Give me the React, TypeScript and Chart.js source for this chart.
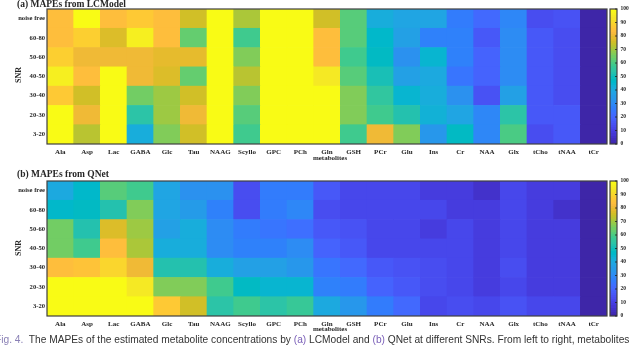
import React, { useEffect, useRef } from 'react';
import { Chart, registerables } from 'chart.js';
Chart.register(...registerables);

const METABOLITES = ['Ala', 'Asp', 'Lac', 'GABA', 'Glc', 'Tau', 'NAAG', 'Scyllo', 'GPC', 'PCh', 'Gln', 'GSH', 'PCr', 'Glu', 'Ins', 'Cr', 'NAA', 'Glx', 'tCho', 'tNAA', 'tCr'];
// SNR rows, top to bottom
const SNR_LABELS = ['noise free', '60-80', '50-60', '40-50', '30-40', '20-30', '3-20'];
const COLORBAR_TICKS = [0, 10, 20, 30, 40, 50, 60, 70, 80, 90, 100];

// (a) LCModel MAPEs (%), one array per SNR row, values clipped at 100 by the colour scale
const LC_NOISE_FREE = [83, 100, 83, 87, 83, 75, 100, 71, 100, 100, 75, 61, 41, 38, 38, 25, 21, 29, 13, 15, 1];
const LC_60_80 = [83, 88, 77, 96, 83, 64, 100, 59, 100, 100, 83, 61, 46, 36, 27, 27, 17, 30, 16, 13, 1];
const LC_50_60 = [88, 80, 80, 80, 79, 79, 100, 67, 100, 100, 83, 58, 47, 32, 44, 27, 19, 30, 16, 13, 1];
const LC_40_50 = [96, 83, 100, 80, 77, 64, 100, 72, 100, 100, 95, 61, 50, 36, 40, 24, 20, 30, 16, 13, 1];
const LC_30_40 = [87, 75, 100, 65, 70, 75, 100, 67, 100, 100, 100, 67, 56, 44, 41, 32, 15, 36, 17, 13, 1];
const LC_20_30 = [100, 80, 100, 54, 70, 80, 100, 62, 100, 100, 100, 67, 59, 52, 43, 38, 29, 54, 17, 16, 1];
const LC_3_20 = [100, 73, 100, 41, 67, 76, 100, 58, 100, 100, 100, 59, 81, 67, 33, 48, 29, 60, 14, 16, 1];

// (b) QNet MAPEs (%)
const QN_NOISE_FREE = [40, 46, 62, 59, 38, 32, 32, 13, 25, 25, 16, 12, 11, 11, 8, 8, 6, 11, 8, 8, 1];
const QN_60_80 = [46, 48, 52, 66, 38, 35, 27, 14, 25, 29, 14, 11, 11, 11, 11, 9, 9, 12, 8, 6, 1];
const QN_50_60 = [65, 52, 77, 70, 37, 42, 31, 25, 24, 23, 17, 15, 12, 11, 8, 11, 9, 11, 8, 8, 1];
const QN_40_50 = [65, 59, 84, 71, 42, 42, 31, 27, 27, 31, 20, 17, 12, 12, 11, 11, 9, 12, 8, 8, 1];
const QN_30_40 = [83, 85, 90, 80, 52, 52, 41, 36, 36, 33, 24, 21, 17, 15, 14, 12, 8, 14, 9, 8, 1];
const QN_20_30 = [100, 100, 100, 95, 67, 66, 59, 48, 44, 45, 28, 25, 19, 17, 14, 11, 9, 12, 9, 8, 1];
const QN_3_20 = [100, 100, 100, 100, 86, 76, 54, 59, 54, 57, 40, 34, 25, 21, 12, 14, 12, 15, 11, 11, 1];

const LC_ROWS = [LC_NOISE_FREE, LC_60_80, LC_50_60, LC_40_50, LC_30_40, LC_20_30, LC_3_20];
const QN_ROWS = [QN_NOISE_FREE, QN_60_80, QN_50_60, QN_40_50, QN_30_40, QN_20_30, QN_3_20];

// MATLAB parula colormap (64 entries)
const PARULA: number[][] = [
  [0.2422, 0.1504, 0.6603], [0.2504, 0.1650, 0.7076], [0.2578, 0.1818, 0.7511], [0.2647, 0.1978, 0.7952],
  [0.2706, 0.2147, 0.8364], [0.2751, 0.2342, 0.8710], [0.2783, 0.2559, 0.8991], [0.2803, 0.2782, 0.9221],
  [0.2813, 0.3006, 0.9414], [0.2810, 0.3228, 0.9579], [0.2795, 0.3447, 0.9717], [0.2760, 0.3667, 0.9829],
  [0.2699, 0.3892, 0.9906], [0.2602, 0.4123, 0.9952], [0.2440, 0.4358, 0.9988], [0.2206, 0.4603, 0.9973],
  [0.1963, 0.4847, 0.9892], [0.1834, 0.5074, 0.9798], [0.1786, 0.5289, 0.9682], [0.1764, 0.5499, 0.9520],
  [0.1687, 0.5703, 0.9359], [0.1540, 0.5902, 0.9218], [0.1460, 0.6091, 0.9079], [0.1380, 0.6276, 0.8973],
  [0.1248, 0.6459, 0.8883], [0.1113, 0.6635, 0.8763], [0.0952, 0.6798, 0.8598], [0.0689, 0.6948, 0.8394],
  [0.0297, 0.7082, 0.8163], [0.0036, 0.7203, 0.7917], [0.0067, 0.7312, 0.7660], [0.0433, 0.7411, 0.7394],
  [0.0964, 0.7500, 0.7120], [0.1408, 0.7584, 0.6842], [0.1717, 0.7670, 0.6554], [0.1938, 0.7758, 0.6251],
  [0.2161, 0.7843, 0.5923], [0.2470, 0.7918, 0.5567], [0.2906, 0.7973, 0.5188], [0.3406, 0.8008, 0.4789],
  [0.3909, 0.8029, 0.4354], [0.4456, 0.8024, 0.3909], [0.5044, 0.7993, 0.3480], [0.5616, 0.7942, 0.3045],
  [0.6174, 0.7876, 0.2612], [0.6720, 0.7793, 0.2227], [0.7242, 0.7698, 0.1910], [0.7738, 0.7598, 0.1646],
  [0.8203, 0.7498, 0.1535], [0.8634, 0.7406, 0.1596], [0.9035, 0.7330, 0.1774], [0.9393, 0.7288, 0.2100],
  [0.9728, 0.7298, 0.2394], [0.9956, 0.7434, 0.2371], [0.9970, 0.7659, 0.2199], [0.9952, 0.7893, 0.2028],
  [0.9892, 0.8136, 0.1885], [0.9786, 0.8386, 0.1766], [0.9676, 0.8639, 0.1643], [0.9610, 0.8890, 0.1537],
  [0.9597, 0.9135, 0.1423], [0.9628, 0.9373, 0.1265], [0.9691, 0.9606, 0.1064], [0.9769, 0.9839, 0.0805],
];

function rgb(c: number[]): string {
  return `rgb(${Math.round(c[0] * 255)},${Math.round(c[1] * 255)},${Math.round(c[2] * 255)})`;
}
function parula(v: number): string {
  const i = Math.max(0, Math.min(63, Math.floor((v / 100) * 64)));
  return rgb(PARULA[i]);
}

const SERIF = "'Liberation Serif', 'DejaVu Serif', serif";
const TEXT_COLOR = '#262626';

const framePlugin = {
  id: 'frame',
  afterDatasetsDraw(chart: any) {
    const { ctx, chartArea: a } = chart;
    ctx.save();
    ctx.strokeStyle = '#404040';
    ctx.lineWidth = 1.2;
    ctx.strokeRect(a.left, a.top, a.right - a.left, a.bottom - a.top);
    const marks = chart.options.plugins?.frame?.marks;
    if (marks) {
      const y = chart.scales.y;
      ctx.lineWidth = 0.8;
      ctx.strokeStyle = '#202020';
      for (const v of COLORBAR_TICKS) {
        const py = y.getPixelForValue(v);
        ctx.beginPath();
        ctx.moveTo(a.right - 2, py);
        ctx.lineTo(a.right, py);
        ctx.stroke();
      }
    }
    ctx.restore();
  },
};

function Heatmap({ rows, top }: { rows: number[][]; top: number }) {
  const ref = useRef<HTMLCanvasElement>(null);
  useEffect(() => {
    const n = rows.length;
    const datasets = rows
      .slice()
      .reverse()
      .map((row, k) => ({
        label: SNR_LABELS[n - 1 - k],
        data: row.map(() => 1),
        backgroundColor: row.map(parula),
        borderWidth: 0,
        barPercentage: 1,
        categoryPercentage: 1,
      }));
    const chart = new Chart(ref.current as HTMLCanvasElement, {
      type: 'bar',
      data: { labels: METABOLITES, datasets },
      options: {
        animation: false,
        responsive: false,
        events: [],
        layout: { padding: { top: 9, right: 3, left: 0, bottom: 0 } },
        plugins: { legend: { display: false }, tooltip: { enabled: false }, title: { display: false } },
        scales: {
          x: {
            stacked: true,
            grid: { display: false, drawTicks: false },
            border: { display: false },
            ticks: {
              font: { family: SERIF, size: 7, weight: 'bold' },
              color: TEXT_COLOR,
              padding: 4,
              maxRotation: 0,
              autoSkip: false,
            },
            afterFit: (s: any) => {
              s.height = 21;
            },
          },
          y: {
            stacked: true,
            min: 0,
            max: n,
            grid: { display: false, drawTicks: false },
            border: { display: false },
            afterBuildTicks: (s: any) => {
              s.ticks = SNR_LABELS.map((_, i) => ({ value: i + 0.5 }));
            },
            ticks: {
              callback: (_v: any, i: number) => SNR_LABELS[n - 1 - i],
              font: { family: SERIF, size: 6.6, weight: 'bold' },
              color: TEXT_COLOR,
              padding: 2,
              autoSkip: false,
            },
            afterFit: (s: any) => {
              s.width = 47;
            },
          },
        },
      } as any,
      plugins: [framePlugin],
    });
    return () => chart.destroy();
  }, []);
  return <canvas ref={ref} width={610} height={165} style={{ position: 'absolute', left: 0, top }} />;
}

function Colorbar({ top }: { top: number }) {
  const ref = useRef<HTMLCanvasElement>(null);
  useEffect(() => {
    const chart = new Chart(ref.current as HTMLCanvasElement, {
      type: 'bar',
      data: {
        labels: [''],
        datasets: [
          {
            data: [[COLORBAR_TICKS[0], COLORBAR_TICKS[COLORBAR_TICKS.length - 1]]],
            backgroundColor: (c: any) => {
              const a = c.chart.chartArea;
              if (!a) return rgb(PARULA[0]);
              const g = c.chart.ctx.createLinearGradient(0, a.bottom, 0, a.top);
              PARULA.forEach((col, i) => {
                g.addColorStop(i / 64, rgb(col));
                g.addColorStop((i + 1) / 64, rgb(col));
              });
              return g;
            },
            borderWidth: 0,
            barPercentage: 1,
            categoryPercentage: 1,
          },
        ],
      },
      options: {
        animation: false,
        responsive: false,
        events: [],
        layout: { padding: { top: 9, right: 0, left: 10, bottom: 21 } },
        plugins: { legend: { display: false }, tooltip: { enabled: false }, frame: { marks: true } },
        scales: {
          x: { display: false },
          y: {
            position: 'right',
            min: 0,
            max: 100,
            grid: { display: false, drawTicks: false },
            border: { display: false },
            afterBuildTicks: (s: any) => {
              s.ticks = COLORBAR_TICKS.map((v) => ({ value: v }));
            },
            ticks: {
              font: { family: SERIF, size: 5.5, weight: 'bold' },
              color: TEXT_COLOR,
              padding: 3.5,
              autoSkip: false,
            },
            afterFit: (s: any) => {
              s.width = 23;
            },
          },
        },
      } as any,
      plugins: [framePlugin],
    });
    return () => chart.destroy();
  }, []);
  return <canvas ref={ref} width={40} height={165} style={{ position: 'absolute', left: 600, top }} />;
}

const abs = (style: React.CSSProperties): React.CSSProperties => ({
  position: 'absolute',
  whiteSpace: 'nowrap',
  lineHeight: 1,
  fontFamily: SERIF,
  fontWeight: 'bold',
  color: TEXT_COLOR,
  ...style,
});

export default function App() {
  const purple = '#7a5fb8';
  return (
    <div style={{ position: 'fixed', left: 0, top: 0, width: 640, height: 347, background: '#fff', overflow: 'hidden' }}>
      <Heatmap rows={LC_ROWS} top={0} />
      <Colorbar top={0} />
      <Heatmap rows={QN_ROWS} top={172} />
      <Colorbar top={172} />

      <div style={abs({ left: 17, top: 0, fontSize: 9.5 })}>(a) MAPEs from LCModel</div>
      <div style={abs({ left: 17, top: 170, fontSize: 9.5 })}>(b) MAPEs from QNet</div>

      <div style={abs({ left: 19, top: 75, fontSize: 8, transform: 'translate(-50%,-50%) rotate(-90deg)' })}>SNR</div>
      <div style={abs({ left: 19, top: 248, fontSize: 8, transform: 'translate(-50%,-50%) rotate(-90deg)' })}>SNR</div>

      <div style={abs({ left: 330, top: 157.5, fontSize: 7, transform: 'translate(-50%,-50%)' })}>metabolites</div>
      <div style={abs({ left: 330, top: 329, fontSize: 7, transform: 'translate(-50%,-50%)' })}>metabolites</div>

      <div
        style={{
          position: 'absolute',
          left: -5,
          top: 335,
          whiteSpace: 'nowrap',
          lineHeight: 1,
          fontFamily: "'Liberation Sans', Arial, sans-serif",
          fontSize: 10.2,
          color: '#333',
        }}
      >
        <span style={{ color: '#8a80b5' }}>Fig. 4.</span>
        {'\u00a0 The MAPEs of the estimated metabolite concentrations by '}
        <span style={{ color: purple }}>(a)</span>
        {' LCModel and '}
        <span style={{ color: purple }}>(b)</span>
        {' QNet at different SNRs. From left to right, metabolites'}
      </div>
    </div>
  );
}
